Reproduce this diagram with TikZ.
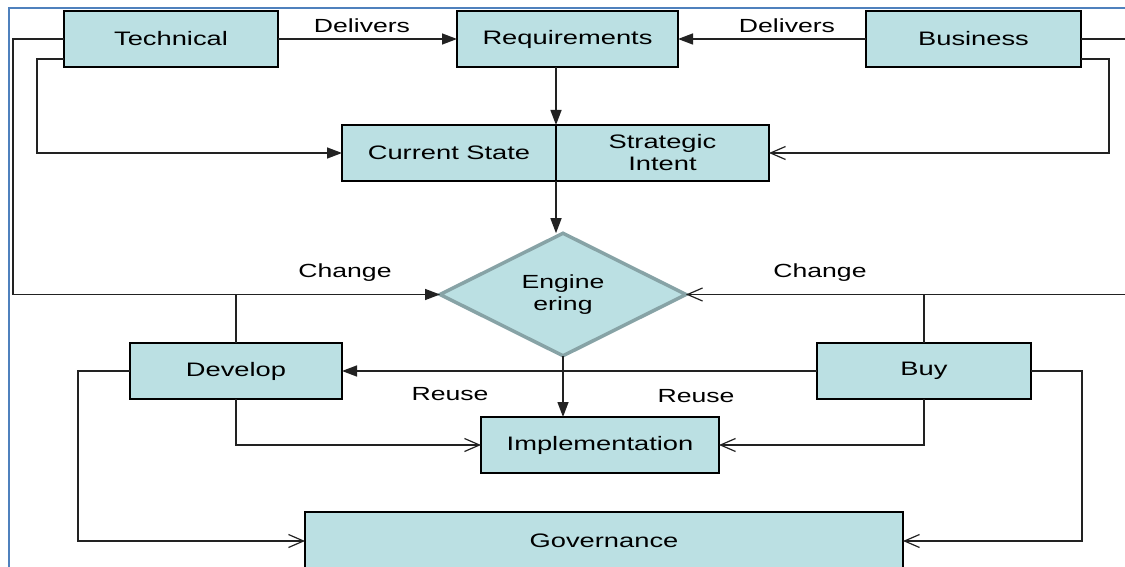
\documentclass[tikz,border=0pt]{standalone}
\usepackage{fontspec}
\setmainfont[FakeStretch=1.4]{Liberation Sans}
\usetikzlibrary{arrows.meta,shapes.geometric}
\definecolor{boxfill}{HTML}{BBE0E3}
\definecolor{diaborder}{HTML}{87A3A6}
\definecolor{frameblue}{HTML}{4F81BD}
\definecolor{linecol}{HTML}{222222}
\begin{document}
\begin{tikzpicture}[x=1pt,y=-1pt,
  box/.style={draw=black, line width=1.5pt, fill=boxfill, inner sep=0pt, outer sep=0pt,
    align=center, minimum height=56pt, font=\fontsize{19.5}{22}\selectfont},
  diabox/.style={diamond, draw=diaborder, line width=3.5pt, fill=boxfill, inner sep=0pt,
    outer sep=0pt, minimum width=246pt, minimum height=115pt, align=center,
    font=\fontsize{19}{22}\selectfont},
  lbl/.style={font=\fontsize{19}{22}\selectfont, inner sep=0pt},
  conn/.style={draw=linecol, line width=1.4pt},
  fa/.style={conn, -{Triangle[length=15pt,width=11pt]}},
  oa/.style={conn, -{Straight Barb[length=15pt,width=13pt,line width=1.2pt]}}
]
\clip (0,0) rectangle (1125,567);
\fill[white] (0,0) rectangle (1125,567);
% frame
\draw[frameblue, line width=2pt] (9,600) -- (9,8) -- (1200,8);

% nodes
\node[box, minimum width=214pt] (tech) at (171,39) {Technical};
\node[box, minimum width=221pt] (req) at (567.5,39) {Requirements};
\node[box, minimum width=215pt] (bus) at (973.5,39) {Business};
\node[box, minimum width=214pt] (cs) at (449,153) {Current State};
\node[box, minimum width=213pt] (si) at (662.5,153) {Strategic\\Intent};
\node[diabox] (dia) at (563,294.5) {Engine\\ering};
\node[box, minimum width=212pt] (dev) at (236,371) {Develop};
\node[box, minimum width=214pt] (buy) at (924,371) {Buy};
\node[box, minimum width=238pt] (impl) at (600,445) {Implementation};
\node[box, minimum width=598pt, minimum height=58pt] (gov) at (604,541) {Governance};

% labels
\node[lbl] (l1) at (362,26) {Delivers};
\node[lbl] (l2) at (787,26) {Delivers};
\node[lbl] (l3) at (345,273) {Change};
\node[lbl] (l4) at (820,273) {Change};
\node[lbl] (l5) at (450,394) {Reuse};
\node[lbl] (l6) at (696,396) {Reuse};

% connectors
\draw[fa] (tech.east) -- (req.west);
\draw[fa] (bus.west) -- (req.east);
\draw[fa] (tech.west) -- ++(-51,0) |- (dia.west);
\draw[fa] ([yshift=8pt]tech.south west) -- ++(-27,0) |- (cs.west);
\draw[oa] (bus.east) -- (1150,39) |- (dia.east);
\draw[oa] ([yshift=8pt]bus.south east) -- (1109,59) |- (si.east);
\draw[fa] (cs.north east |- req.south) -- (cs.north east);
\draw[fa] (cs.south east) -- (cs.south east |- dia.north);
\draw[conn] (dev.north) -- (dev.north |- dia.west);
\draw[conn] (buy.north) -- (buy.north |- dia.east);
\draw[fa] (buy.west) -- (dev.east);
\draw[fa] (dia.south) -- (dia.south |- impl.north);
\draw[oa] (dev.south) |- (impl.west);
\draw[oa] (buy.south) |- (impl.east);
\draw[oa] (dev.west) -- (78,371) |- (gov.west);
\draw[oa] (buy.east) -- (1082,371) |- (gov.east);
\end{tikzpicture}
\end{document}
